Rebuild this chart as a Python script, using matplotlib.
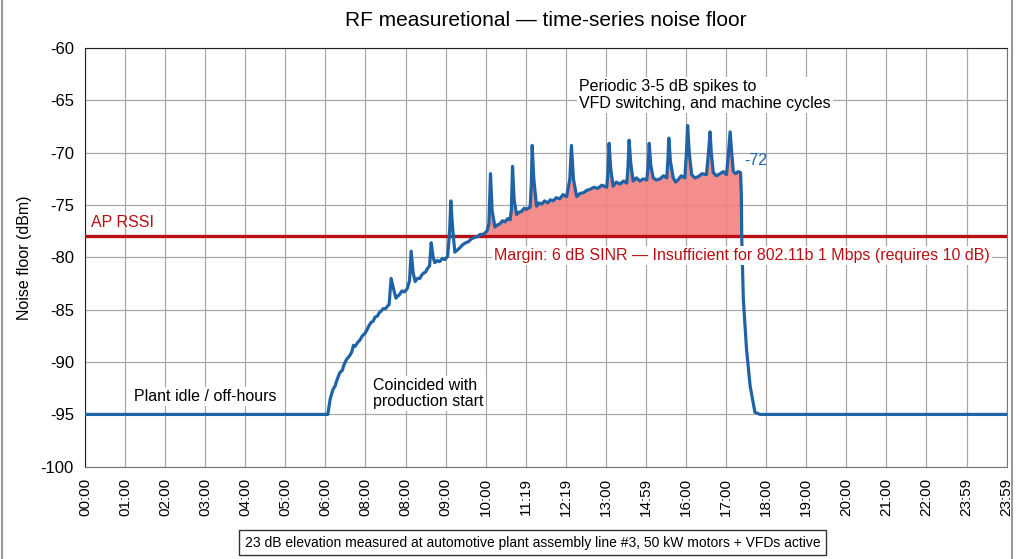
import matplotlib.pyplot as plt
from matplotlib.patches import Rectangle
import numpy as np

plt.rcParams['font.family'] = ['Liberation Sans', 'DejaVu Sans']
plt.rcParams['axes.unicode_minus'] = False

# tick labels (categorical positions 0..23)
tick_labels = ["00:00", "01:00", "02:00", "03:00", "04:00", "05:00", "06:00",
               "08:00", "08:00", "09:00", "10:00", "11:19", "12:19", "13:00",
               "14:59", "16:00", "17:00", "18:00", "19:00", "20:00", "21:00",
               "22:00", "23:59", "23:59"]

# noise floor trace (x in tick-index units)
noise_x = [0.00, 6.00, 6.06, 6.12, 6.19, 6.24, 6.28, 6.36, 6.42, 6.46, 6.52, 6.56, 6.62,
           6.66, 6.70, 6.74, 6.81, 6.86, 6.92, 6.98, 7.04, 7.09, 7.14, 7.19, 7.24, 7.30,
           7.34, 7.40, 7.44, 7.50, 7.54, 7.59, 7.64, 7.70, 7.76, 7.80, 7.84, 7.91, 7.97,
           8.04, 8.10, 8.14, 8.19, 8.24, 8.30, 8.36, 8.40, 8.45, 8.50, 8.54, 8.60, 8.64,
           8.69, 8.73, 8.79, 8.85, 8.92, 8.98, 9.05, 9.10, 9.13, 9.17, 9.23, 9.29, 9.35,
           9.42, 9.50, 9.57, 9.65, 9.72, 9.80, 9.86, 9.94, 10.03, 10.08, 10.12, 10.16,
           10.23, 10.29, 10.35, 10.42, 10.48, 10.55, 10.61, 10.64, 10.67, 10.71, 10.77,
           10.83, 10.90, 10.96, 11.02, 11.11, 11.14, 11.16, 11.20, 11.27, 11.33, 11.40,
           11.47, 11.55, 11.61, 11.68, 11.76, 11.85, 11.93, 12.02, 12.10, 12.14, 12.19,
           12.27, 12.35, 12.45, 12.52, 12.60, 12.70, 12.80, 12.90, 13.02, 13.05, 13.08,
           13.12, 13.18, 13.26, 13.35, 13.44, 13.52, 13.55, 13.58, 13.62, 13.68, 13.76,
           13.85, 13.93, 14.02, 14.05, 14.08, 14.12, 14.18, 14.26, 14.35, 14.44, 14.52,
           14.55, 14.57, 14.61, 14.68, 14.74, 14.80, 14.88, 14.97, 15.01, 15.04, 15.08,
           15.14, 15.22, 15.30, 15.40, 15.51, 15.56, 15.60, 15.63, 15.68, 15.76, 15.85,
           15.93, 16.01, 16.06, 16.10, 16.14, 16.18, 16.24, 16.30, 16.36, 16.38, 16.39,
           16.43, 16.51, 16.60, 16.72, 16.85, 23.00]
noise_y = [-95.0, -95.0, -95.0, -93.5, -92.6, -92.3, -91.8, -91.0, -90.8, -90.3, -89.8, -89.6, -89.3,
           -89.0, -88.4, -88.5, -88.1, -87.9, -87.5, -87.3, -86.9, -86.5, -86.2, -86.1, -85.7, -85.6,
           -85.3, -85.1, -84.9, -84.9, -84.7, -84.5, -82.0, -83.0, -83.9, -83.7, -83.6, -83.2, -83.3,
           -83.0, -82.2, -79.4, -81.5, -82.3, -82.0, -82.0, -81.7, -81.5, -81.4, -81.1, -80.8, -78.6,
           -80.0, -80.5, -80.3, -80.4, -80.1, -80.2, -79.9, -77.5, -74.6, -77.0, -79.5, -79.3, -79.1,
           -78.8, -78.6, -78.5, -78.2, -78.1, -78.0, -77.8, -77.8, -77.5, -76.8, -72.0, -75.5,
           -77.1, -76.9, -76.8, -76.5, -76.6, -76.3, -76.4, -75.5, -71.3, -74.5, -75.9,
           -75.7, -75.6, -75.3, -75.4, -75.2, -73.0, -69.3, -72.5, -75.1, -74.8, -74.9,
           -74.6, -74.8, -74.5, -74.6, -74.3, -74.4, -74.0, -74.2, -72.5, -69.3, -72.5,
           -74.2, -73.9, -73.8, -73.6, -73.5, -73.3, -73.4, -73.1, -73.3, -72.0, -69.1,
           -71.5, -73.2, -72.8, -73.0, -72.7, -72.9, -71.5, -68.8, -71.0, -72.7, -72.4,
           -72.7, -72.5, -72.6, -71.5, -69.1, -71.2, -72.4, -72.6, -72.5, -72.2, -72.4,
           -70.5, -68.6, -70.8, -72.4, -72.8, -72.6, -72.2, -72.4, -70.0, -67.4, -70.0,
           -72.1, -72.4, -72.3, -72.0, -72.1, -70.0, -68.0, -70.0, -71.9, -72.2, -72.0,
           -71.8, -72.1, -70.0, -68.0, -70.0, -71.8, -72.0, -71.8, -71.9, -74.0, -78.1,
           -84.0, -88.8, -92.3, -94.8, -95.0, -95.0]

ap_rssi = -78
last_value = -72

x = np.array(noise_x)
y = np.array(noise_y)

fig = plt.figure(figsize=(10.24, 5.59), dpi=100)
ax = fig.add_axes([0.083, 0.165, 0.900, 0.749])

blue = '#1f63a6'
red = '#b80f12'

ax.fill_between(x, y, ap_rssi, where=(y > ap_rssi) & (x > 9.8), interpolate=True,
                color='#f27f7d', alpha=0.88, linewidth=0, zorder=2)
ax.axhline(ap_rssi, color=red, linewidth=2.4, zorder=3)
ax.plot(x, y, color=blue, linewidth=2.3, zorder=4)

ax.set_xlim(0, 23)
ax.set_ylim(-100, -60)
ax.set_xticks(range(len(tick_labels)))
ax.set_xticklabels(tick_labels, rotation=90, fontsize=11)
ax.set_yticks(range(-100, -59, 5))
ax.tick_params(axis='y', labelsize=12, length=0, pad=8)
ax.tick_params(axis='x', length=0, pad=8)
ax.grid(True, color='#a8a8a8', linewidth=0.9, zorder=0)
ax.set_axisbelow(True)
for s in ['left', 'top']:
    ax.spines[s].set_color('#222222')
for s in ['right', 'bottom']:
    ax.spines[s].set_color('#777777')

ax.set_ylabel("Noise floor (dBm)", fontsize=11.5, labelpad=6)
ax.set_title("RF measuretional \u2014 time-series noise floor", fontsize=15, pad=16)

ax.text(0.15, -77.35, "AP RSSI", color=red, fontsize=11.5, va='bottom', ha='left')
ax.text(10.2, -79.8, "Margin: 6 dB SINR \u2014 Insufficient for 802.11b 1 Mbps (requires 10 dB)",
        color=red, fontsize=11.5, va='center', ha='left', zorder=5,
        bbox=dict(facecolor='white', edgecolor='none', pad=1.5))
ax.text(16.45, -70.7, str(last_value), color=blue, fontsize=11.5, va='center', ha='left')
ax.text(12.33, -63.0, "Periodic 3-5 dB spikes to\nVFD switching, and machine cycles",
        fontsize=11.5, va='top', ha='left', linespacing=1.15, zorder=5,
        bbox=dict(facecolor='white', edgecolor='none', pad=1.5))
ax.text(3.0, -93.3, "Plant idle / off-hours", fontsize=11.5, va='center', ha='center',
        bbox=dict(facecolor='white', edgecolor='none', pad=1.5))
ax.text(7.2, -93.0, "Coincided with\nproduction start", fontsize=11.5, va='center', ha='left',
        linespacing=1.15, zorder=5, bbox=dict(facecolor='white', edgecolor='none', pad=1.5))

fig.text(0.520, 0.029, "23 dB elevation measured at automotive plant assembly line #3, 50 kW motors + VFDs active",
         fontsize=10, ha='center', va='center',
         bbox=dict(facecolor='white', edgecolor='#333333', linewidth=1, pad=4))

fig.patches.append(Rectangle((0.002, -0.01), 0.986, 1.02, transform=fig.transFigure,
                             fill=False, edgecolor='#9a9a9a', linewidth=1.5))

fig.savefig("out.png", dpi=100)
